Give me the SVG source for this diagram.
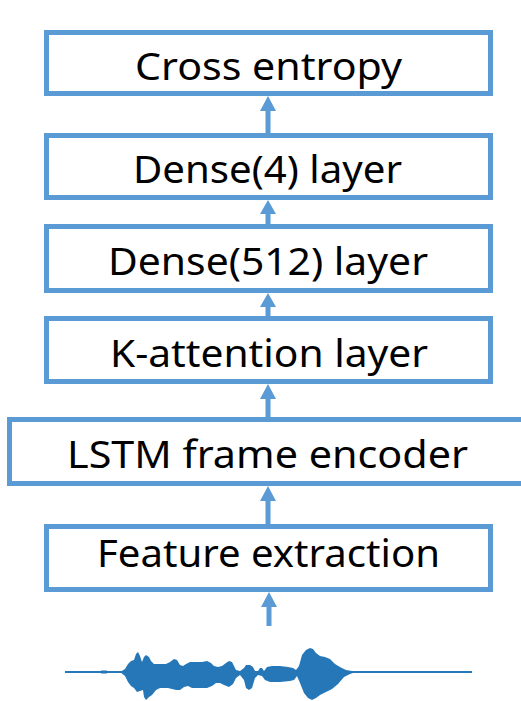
<svg xmlns="http://www.w3.org/2000/svg" width="521" height="701" viewBox="0 0 521 701">
<style>
.box{fill:#fff;stroke:#5B9BD5;stroke-width:5}
.lbl{font-family:"Noto Sans","Open Sans","DejaVu Sans",sans-serif;font-size:38px;fill:#000;text-anchor:middle}
.arr{fill:#5B9BD5}
</style>
<rect width="521" height="701" fill="#fff"/>
<g id="cross-entropy"><rect class="box" x="46.5" y="32.5" width="444" height="61"/><text class="lbl" x="268.5" y="80" textLength="267" lengthAdjust="spacingAndGlyphs">Cross entropy</text></g>
<g id="dense4"><rect class="box" x="46.5" y="135.5" width="444" height="62"/><text class="lbl" x="267.5" y="183" textLength="269" lengthAdjust="spacingAndGlyphs">Dense(4) layer</text></g>
<g id="dense512"><rect class="box" x="46.5" y="226.5" width="444" height="64"/><text class="lbl" x="268" y="275" textLength="320" lengthAdjust="spacingAndGlyphs">Dense(512) layer</text></g>
<g id="k-attention"><rect class="box" x="46.5" y="318.5" width="444" height="63"/><text class="lbl" x="269" y="367" textLength="318" lengthAdjust="spacingAndGlyphs">K-attention layer</text></g>
<g id="lstm"><rect class="box" x="9.5" y="419.5" width="520" height="64"/><text class="lbl" x="267.5" y="468" textLength="401" lengthAdjust="spacingAndGlyphs">LSTM frame encoder</text></g>
<g id="feature-extraction"><rect class="box" x="46.5" y="526.5" width="444" height="63"/><text class="lbl" x="268.5" y="567" textLength="343" lengthAdjust="spacingAndGlyphs">Feature extraction</text></g>
<g id="waveform">
<line x1="65" y1="672" x2="472" y2="672" stroke="#2677B8" stroke-width="2"/>
<rect x="101" y="670.5" width="6" height="3" fill="#2677B8"/>
<polygon fill="#2677B8" points="120,672 125,669 128,664 131,661 134,660 136,654 138,652 140,656 142,662 144,657 146,655 149,657 151,661 154,664 160,664 166,664 170,662 174,659 177,660 180,665 183,666 186,664 190,662 196,662 202,662 207,661 211,663 214,666 218,667 222,666 226,663 229,661 232,662 234,666 236,670 240,671 244,668 246,665 250,665 253,667 255,671 258,671 260,668 262,668 264,671 267,667 272,666 280,666 288,667 293,668 296,670 299,666 302,655 306,650 310,648 313,649 316,653 320,656 325,657 330,659 335,664 340,667 346,670 352,671 356,672 350,674 344,677 338,684 332,689 326,692 320,695 316,698 312,700 308,698 304,693 300,683 297,676 294,680 290,681 280,682 270,682 265,680 262,676 258,675 255,678 252,688 249,690 246,688 244,680 240,675 236,678 233,684 229,687 224,685 220,683 216,683 212,686 207,688 200,688 192,688 188,686 184,687 180,690 176,690 172,689 168,688 160,688 156,690 152,695 149,697 146,700 144,697 143,690 140,691 137,692 134,688 131,686 128,682 125,676"/>
</g>
<g id="connectors" class="arr">
<path d="M268,96 L276,111 L270.5,111 L270.5,133 L265.5,133 L265.5,111 L260,111 Z"/>
<path d="M268,200 L276,214 L270.5,214 L270.5,224 L265.5,224 L265.5,214 L260,214 Z"/>
<path d="M268,293 L276,307 L270.5,307 L270.5,316 L265.5,316 L265.5,307 L260,307 Z"/>
<path d="M268,384 L276,399 L270.5,399 L270.5,417 L265.5,417 L265.5,399 L260,399 Z"/>
<path d="M268,486 L276,501 L270.5,501 L270.5,524 L265.5,524 L265.5,501 L260,501 Z"/>
<path d="M269,592 L277,607 L271.5,607 L271.5,626 L266.5,626 L266.5,607 L261,607 Z"/>
</g>
</svg>
